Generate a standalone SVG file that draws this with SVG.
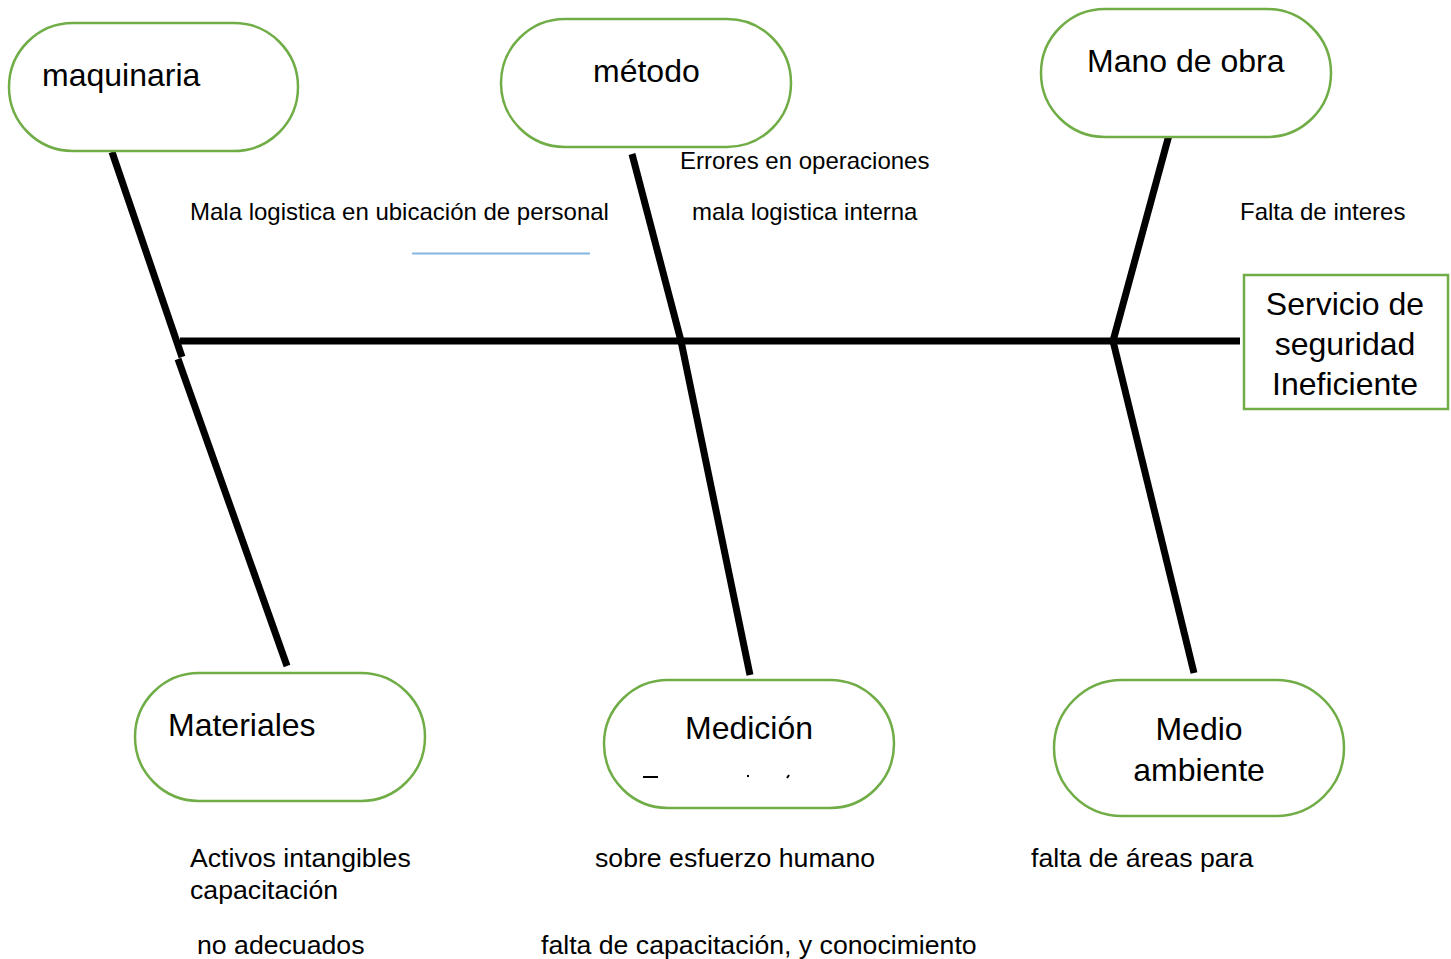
<svg xmlns="http://www.w3.org/2000/svg" width="1451" height="959" viewBox="0 0 1451 959">
<style>
.node{fill:#fff;stroke:#70AD47;stroke-width:2.5}
.big{font-family:"Liberation Sans",Arial,sans-serif;font-size:32px;fill:#000}
.sm{font-family:"Liberation Sans",Arial,sans-serif;font-size:24px;fill:#000}
.md{font-family:"Liberation Sans",Arial,sans-serif;font-size:26.67px;fill:#000}
.bone{stroke:#000;stroke-width:7;fill:none}
</style>
<rect width="1451" height="959" fill="#fff"/>
<g id="connectors">
<line class="bone" x1="180" y1="341" x2="1240" y2="341"/>
<line class="bone" x1="112" y1="152" x2="182" y2="357"/>
<line class="bone" x1="178" y1="359" x2="287" y2="666"/>
<line class="bone" x1="632" y1="154" x2="681" y2="341"/>
<line class="bone" x1="681" y1="341" x2="750" y2="675"/>
<line class="bone" x1="1169" y1="135" x2="1113" y2="341"/>
<line class="bone" x1="1113" y1="341" x2="1194" y2="673"/>
</g>
<g id="maquinaria">
<rect class="node" x="9" y="23" width="289" height="128" rx="64" ry="64"/>
<text class="big" x="42" y="86">maquinaria</text>
</g>
<g id="metodo">
<rect class="node" x="501" y="19" width="290" height="128" rx="64" ry="64"/>
<text class="big" x="593" y="82">método</text>
</g>
<g id="mano-de-obra">
<rect class="node" x="1041" y="9" width="290" height="128" rx="64" ry="64"/>
<text class="big" x="1087" y="72">Mano de obra</text>
</g>
<g id="materiales">
<rect class="node" x="135" y="673" width="290" height="128" rx="64" ry="64"/>
<text class="big" x="168" y="736">Materiales</text>
</g>
<g id="medicion">
<rect class="node" x="604" y="680" width="290" height="128" rx="64" ry="64"/>
<text class="big" x="685" y="739">Medición</text>
<line x1="643" y1="777" x2="658" y2="777" stroke="#000" stroke-width="2"/>
<line x1="747" y1="776" x2="749" y2="776" stroke="#000" stroke-width="2"/>
<line x1="787" y1="778" x2="789" y2="775" stroke="#000" stroke-width="2"/>
</g>
<g id="medio-ambiente">
<rect class="node" x="1054" y="680" width="290" height="136" rx="68" ry="68"/>
<text class="big" x="1199" y="740" text-anchor="middle">Medio</text>
<text class="big" x="1199" y="781" text-anchor="middle">ambiente</text>
</g>
<g id="efecto">
<rect x="1244" y="275" width="204" height="134" fill="#fff" stroke="#70AD47" stroke-width="2.5"/>
<text class="big" x="1345" y="315" text-anchor="middle">Servicio de</text>
<text class="big" x="1345" y="355" text-anchor="middle">seguridad</text>
<text class="big" x="1345" y="395" text-anchor="middle">Ineficiente</text>
</g>
<g id="labels">
<text class="sm" x="190" y="220">Mala logistica en ubicación de personal</text>
<line x1="412" y1="253.5" x2="590" y2="253.5" stroke="#86B6E2" stroke-width="2"/>
<text class="sm" x="680" y="169">Errores en operaciones</text>
<text class="sm" x="692" y="220">mala logistica interna</text>
<text class="sm" x="1240" y="220">Falta de interes</text>
<text class="md" x="190" y="867">Activos intangibles</text>
<text class="md" x="190" y="899">capacitación</text>
<text class="md" x="197" y="954">no adecuados</text>
<text class="md" x="595" y="867">sobre esfuerzo humano</text>
<text class="md" x="541" y="954">falta de capacitación, y conocimiento</text>
<text class="md" x="1031" y="867">falta de áreas para</text>
</g>
</svg>
